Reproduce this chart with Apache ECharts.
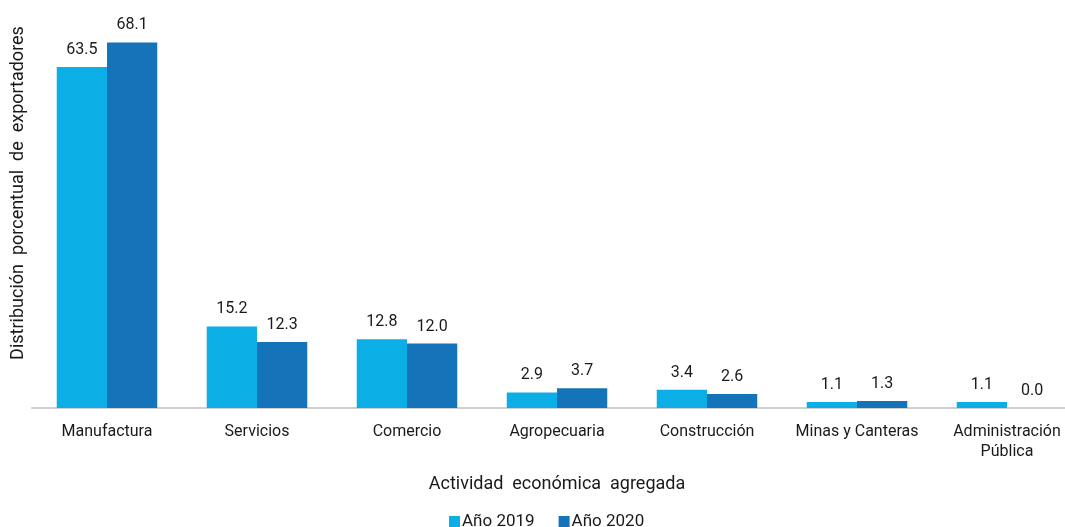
<!DOCTYPE html>
<html>
<head>
<meta charset="utf-8">
<script src="https://cdn.jsdelivr.net/npm/echarts@6/dist/echarts.min.js"></script>
<style>
html,body{margin:0;padding:0;background:#fff;}
#chart{width:1065px;height:527px;}
</style>
</head>
<body>
<div id="chart"></div>
<script>
const categories = ['Manufactura', 'Servicios', 'Comercio', 'Agropecuaria', 'Construcción', 'Minas y Canteras', 'Administración\nPública'];
const seriesNames = ['Año 2019', 'Año 2020'];
const values2019 = [63.5, 15.2, 12.8, 2.9, 3.4, 1.1, 1.1];
const values2020 = [68.1, 12.3, 12.0, 3.7, 2.6, 1.3, 0.0];
const colors = ['#0BAFE6', '#1473B9'];

const chart = echarts.init(document.getElementById('chart'));
const font = 'Roboto, sans-serif';
const txt = '#1a1a1a';
function mk(name, data, color) {
  return {
    name: name, type: 'bar', data: data, barGap: '0%', barCategoryGap: '33%',
    itemStyle: { color: color },
    label: { show: true, position: 'top', distance: 9, color: txt, fontSize: 16, fontFamily: font,
      formatter: p => p.value.toFixed(1) }
  };
}
chart.setOption({
  animation: false,
  color: colors,
  grid: { left: 32, width: 1050, top: 0, bottom: 119, containLabel: false, outerBoundsMode: 'none' },
  legend: {
    bottom: -3, left: 449, padding: 0, itemWidth: 11, itemHeight: 11, itemGap: 24, icon: 'rect',
    textStyle: { color: txt, fontSize: 17, fontFamily: font, padding: [0,0,0,-3] },
    data: seriesNames
  },
  xAxis: {
    type: 'category', data: categories,
    name: 'Actividad  económica  agregada', nameLocation: 'middle', nameGap: 67,
    nameTextStyle: { color: txt, fontSize: 18, fontFamily: font },
    axisLine: { lineStyle: { color: '#D0D0D0', width: 2 } },
    axisTick: { show: false },
    axisLabel: { color: txt, fontSize: 16, fontFamily: font, margin: 14, lineHeight: 20, interval: 0 }
  },
  yAxis: {
    type: 'value', min: 0, max: 76,
    name: 'Distribución  porcentual  de  exportadores', nameLocation: 'middle', nameGap: 5,
    nameTextStyle: { color: txt, fontSize: 18, fontFamily: font, padding: [0, 0, 0, 22] },
    axisLine: { show: false }, axisTick: { show: false }, axisLabel: { show: false },
    splitLine: { show: false }
  },
  series: [mk(seriesNames[0], values2019, colors[0]), mk(seriesNames[1], values2020, colors[1])]
});
</script>
</body>
</html>
